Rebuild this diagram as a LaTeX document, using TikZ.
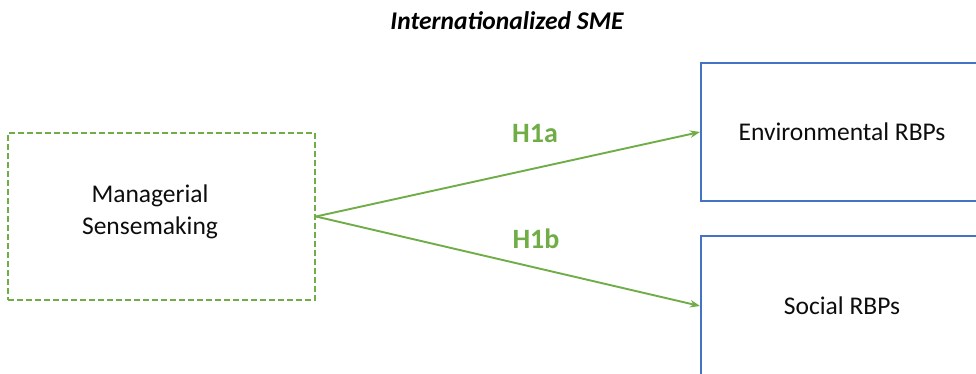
\documentclass[tikz,border=0pt]{standalone}
\usepackage{fontspec}
\setmainfont{Carlito}
\usetikzlibrary{arrows.meta}
\definecolor{hypgreen}{HTML}{70AD47}
\definecolor{outblue}{HTML}{4472C4}
\tikzset{
  x=1pt, y=-1pt,
  bodyfont/.style={font=\fontsize{25.5}{32}\selectfont, text=black!95},
  sensebox/.style={draw=hypgreen, line width=2pt, dash pattern=on 6pt off 3pt,
    minimum width=307pt, minimum height=167pt, inner sep=0pt},
  rbpbox/.style={draw=outblue, line width=2pt, minimum width=282pt,
    inner sep=0pt, bodyfont},
  hyparrow/.style={draw=hypgreen, line width=1.9pt, -{Stealth[length=10pt,width=7.5pt]}},
  hyplabel/.style={text=hypgreen, font=\fontsize{28}{32}\selectfont\bfseries},
}
\begin{document}
\begin{tikzpicture}
  \useasboundingbox (0,0) rectangle (976,374);
  \clip (0,0) rectangle (976,374);
  \fill[white] (0,0) rectangle (976,374);

  % heading
  \node[font=\fontsize{25.5}{30}\selectfont\bfseries\itshape] (title) at (507,21) {Internationalized SME};

  % antecedent
  \node[sensebox] (ms) at (161.5,216.5) {};
  \node[bodyfont, align=center] (mstext) at (150,212) {Managerial\\Sensemaking};

  % outcome boxes, running off the right edge
  \node[rbpbox, minimum height=138pt] (env) at (842,132) {Environmental RBPs};
  \node[rbpbox, minimum height=140pt] (soc) at (842,306) {Social RBPs};

  % hypotheses
  \draw[hyparrow] (ms.east) -- (env.west);
  \draw[hyparrow] (ms.east) -- (soc.west);
  \node[hyplabel] (h1a) at (535,134) {H1a};
  \node[hyplabel] (h1b) at (536,239) {H1b};
\end{tikzpicture}
\end{document}
